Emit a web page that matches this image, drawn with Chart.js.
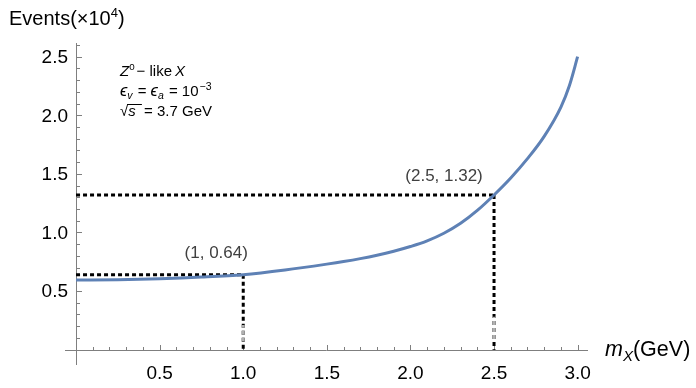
<!DOCTYPE html>
<html>
<head>
<meta charset="utf-8">
<script src="https://cdn.jsdelivr.net/npm/chart.js@4.4.1/dist/chart.umd.min.js"></script>
<style>
html, body { margin: 0; padding: 0; background: #fff; }
#wrap { width: 696px; height: 388px; }
</style>
</head>
<body>
<div id="wrap"><canvas id="chart" width="696" height="388"></canvas></div>
<script>
// values (events in units of 10^4)
const massValues = [0, 0.25, 0.5, 0.75, 1.0, 1.25, 1.5, 1.6, 1.7, 1.8, 1.9, 2.0, 2.1, 2.2, 2.3, 2.4, 2.5, 2.6, 2.7, 2.8, 2.9, 2.95, 3.0];
const eventValues = [0.594, 0.597, 0.605, 0.619, 0.64, 0.68, 0.73, 0.752, 0.777, 0.806, 0.84, 0.88, 0.928, 0.993, 1.078, 1.188, 1.32, 1.465, 1.63, 1.82, 2.07, 2.25, 2.5];
const xTickLabels = ['0.5', '1.0', '1.5', '2.0', '2.5', '3.0'];
const yTickLabels = ['0.5', '1.0', '1.5', '2.0', '2.5'];
const markedPoints = [[1, 0.64], [2.5, 1.32]];
const markedLabels = ['(1, 0.64)', '(2.5, 1.32)'];

const FONT = '"Liberation Sans", Arial, sans-serif';

// draw a run of text pieces (italic / sub / superscript) one after the other
function drawRich(ctx, x, y, parts, size, color) {
    let cx = x;
    parts.forEach(p => {
        const s = size * (p.scale || 1);
        ctx.font = (p.italic ? 'italic ' : '') + s + 'px ' + FONT;
        ctx.fillStyle = color;
        const w = ctx.measureText(p.t).width;
        ctx.fillText(p.t, cx, y + (p.dy || 0) * size);
        if (p.over) {
            ctx.strokeStyle = color;
            ctx.lineWidth = 1;
            ctx.beginPath();
            ctx.moveTo(cx - 1, Math.round(y - size * 0.82) + 0.5);
            ctx.lineTo(cx + w + 2, Math.round(y - size * 0.82) + 0.5);
            ctx.stroke();
        }
        cx += w + (p.gap || 0);
    });
    return cx;
}

const mathAxes = {
    id: 'mathAxes',
    beforeDatasetsDraw(chart) {
        const ctx = chart.ctx;
        const xs = chart.scales.x, ys = chart.scales.y;
        const x0 = xs.getPixelForValue(0), y0 = ys.getPixelForValue(0);
        ctx.save();

        // axes lines
        ctx.strokeStyle = '#7f7f7f';
        ctx.lineWidth = 1;
        ctx.beginPath();
        ctx.moveTo(chart.chartArea.left, Math.round(y0) + 0.5);
        ctx.lineTo(chart.chartArea.right, Math.round(y0) + 0.5);
        ctx.moveTo(Math.round(x0) + 0.5, chart.chartArea.top);
        ctx.lineTo(Math.round(x0) + 0.5, chart.chartArea.bottom);
        ctx.stroke();

        // ticks: major every 0.5, minor every 0.1
        ctx.beginPath();
        for (let i = 1; i <= 30; i++) {
            const v = i / 10;
            const len = i % 5 === 0 ? 5 : 3;
            const px = Math.round(xs.getPixelForValue(v)) + 0.5;
            ctx.moveTo(px, Math.round(y0));
            ctx.lineTo(px, Math.round(y0) - len);
        }
        for (let i = 1; i <= 26; i++) {
            const v = i / 10;
            const len = i % 5 === 0 ? 5 : 3;
            const py = Math.round(ys.getPixelForValue(v)) + 0.5;
            ctx.moveTo(Math.round(x0) + 1, py);
            ctx.lineTo(Math.round(x0) + 1 + len, py);
        }
        ctx.stroke();

        // tick labels
        ctx.fillStyle = '#000';
        ctx.font = '19px ' + FONT;
        ctx.textAlign = 'center';
        ctx.textBaseline = 'middle';
        xTickLabels.forEach(t => {
            ctx.fillText(t, xs.getPixelForValue(parseFloat(t)), y0 + 24);
        });
        ctx.textAlign = 'right';
        yTickLabels.forEach(t => {
            ctx.fillText(t, x0 - 8, ys.getPixelForValue(parseFloat(t)) + 1);
        });

        // dashed guide lines to the marked points
        ctx.strokeStyle = '#000';
        ctx.lineWidth = 3;
        ctx.setLineDash([4, 3]);
        markedPoints.forEach(([mx, my], i) => {
            const px = xs.getPixelForValue(mx), py = ys.getPixelForValue(my);
            ctx.beginPath();
            ctx.moveTo(x0, py);
            ctx.lineTo(px, py);
            ctx.stroke();
            ctx.beginPath();
            ctx.moveTo(px, py);
            ctx.lineTo(px, y0);
            ctx.stroke();
            // lighter stretch near the axis, as in the original rendering
            ctx.save();
            ctx.beginPath();
            const top = ys.getPixelForValue(i === 0 ? 0.21 : 0.28);
            ctx.rect(px - 3, top, 6, ys.getPixelForValue(0.07) - top);
            ctx.clip();
            ctx.strokeStyle = '#b0b0b0';
            ctx.beginPath();
            ctx.moveTo(px, py);
            ctx.lineTo(px, y0);
            ctx.stroke();
            ctx.restore();
        });
        ctx.setLineDash([]);

        // point labels
        ctx.fillStyle = '#404040';
        ctx.font = '17px ' + FONT;
        ctx.textAlign = 'center';
        ctx.textBaseline = 'middle';
        ctx.fillText(markedLabels[0], xs.getPixelForValue(1) - 27, ys.getPixelForValue(0.64) - 21);
        ctx.fillText(markedLabels[1], xs.getPixelForValue(2.5) - 50, ys.getPixelForValue(1.32) - 19);

        // axis titles
        ctx.textAlign = 'left';
        ctx.textBaseline = 'alphabetic';
        drawRich(ctx, 9, 25, [
            { t: 'Events(\u00d710' },
            { t: '4', scale: 0.65, dy: -0.38 },
            { t: ')' }
        ], 20, '#000');
        drawRich(ctx, 605, 356, [
            { t: 'm', italic: true },
            { t: 'X', italic: true, scale: 0.7, dy: 0.22 },
            { t: '(GeV)' }
        ], 21.5, '#000');

        // parameter box
        drawRich(ctx, 120, 76, [
            { t: 'Z', italic: true },
            { t: '0', scale: 0.65, dy: -0.4, gap: 2 },
            { t: '\u2212 like', gap: 3 },
            { t: 'X', italic: true }
        ], 15, '#000');
        drawRich(ctx, 120, 96, [
            { t: '\u03f5', italic: true, scale: 1.1 },
            { t: 'v', italic: true, scale: 0.7, dy: 0.2, gap: 1 },
            { t: ' = ' },
            { t: '\u03f5', italic: true, scale: 1.1 },
            { t: 'a', italic: true, scale: 0.7, dy: 0.2, gap: 1 },
            { t: ' = 10', gap: 1 },
            { t: '\u22123', scale: 0.7, dy: -0.4 }
        ], 15, '#000');
        drawRich(ctx, 120, 116, [
            { t: '\u221a' },
            { t: 's ', italic: true, over: true },
            { t: ' = 3.7 GeV' }
        ], 15, '#000');

        ctx.restore();
    }
};

const points = massValues.map((m, i) => ({ x: m, y: eventValues[i] }));

new Chart(document.getElementById('chart').getContext('2d'), {
    type: 'line',
    data: {
        datasets: [{
            data: points,
            borderColor: '#5E81B5',
            borderWidth: 3,
            pointRadius: 0,
            fill: false,
            cubicInterpolationMode: 'monotone'
        }]
    },
    options: {
        responsive: false,
        animation: false,
        layout: {
            padding: { left: 65, right: 108, top: 43, bottom: 23 }
        },
        scales: {
            x: { type: 'linear', min: -0.066, max: 3.062, display: false },
            y: { type: 'linear', min: -0.131, max: 2.617, display: false }
        },
        plugins: {
            legend: { display: false },
            tooltip: { enabled: false }
        }
    },
    plugins: [mathAxes]
});
</script>
</body>
</html>
